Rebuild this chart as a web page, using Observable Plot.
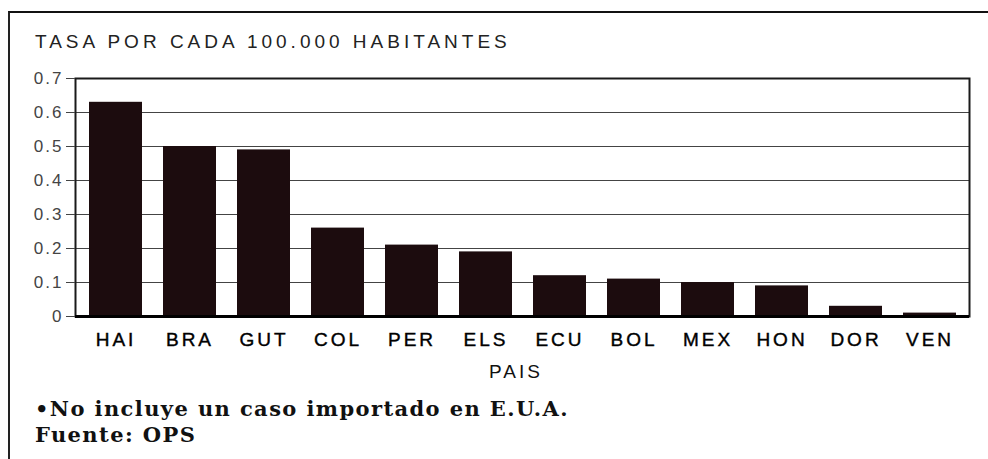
<!DOCTYPE html>
<html><head><meta charset="utf-8">
<script src="https://cdn.jsdelivr.net/npm/d3@7"></script>
<script src="https://cdn.jsdelivr.net/npm/@observablehq/plot@0.6"></script>
<style>
body{margin:0;background:#fff;}
#wrap{position:relative;width:988px;height:459px;overflow:hidden;background:#fff;}
#border{position:absolute;left:8px;top:11px;width:990px;height:470px;border-top:2px solid #111;border-left:2px solid #222;}
.t{position:absolute;white-space:nowrap;line-height:1;margin:0;}
#title{left:35px;top:32px;font-family:"Liberation Sans",Arial,sans-serif;font-size:19px;letter-spacing:4px;color:#222;}
#xlab{left:489px;top:362px;font-family:"Liberation Sans",Arial,sans-serif;font-size:19px;letter-spacing:3px;color:#111;}
.foot{font-family:"DejaVu Serif",serif;font-size:21px;letter-spacing:1.4px;color:#111;font-weight:bold;}
#f1{left:35px;top:398px;}
#f2{left:35px;top:424px;}
#chart{position:absolute;left:0;top:0;}
</style></head>
<body>
<div id="wrap">
  <div id="border"></div>
  <div id="chart"></div>
  <div class="t" id="title">TASA POR CADA 100.000 HABITANTES</div>
  <div class="t" id="xlab">PAIS</div>
  <div class="t foot" id="f1">•No incluye un caso importado en E.U.A.</div>
  <div class="t foot" id="f2">Fuente: OPS</div>
</div>
<script>
const paises = ["HAI","BRA","GUT","COL","PER","ELS","ECU","BOL","MEX","HON","DOR","VEN"];
const tasas  = [0.63,0.50,0.49,0.26,0.21,0.19,0.12,0.11,0.10,0.09,0.03,0.01];
const yTicks = [0,0.1,0.2,0.3,0.4,0.5,0.6,0.7];
const data = paises.map((p,i)=>({pais:p,tasa:tasas[i]}));

const svg = Plot.plot({
  width:988, height:459,
  marginLeft:75, marginRight:19, marginTop:78, marginBottom:143,
  style:{background:"transparent", fontFamily:"'Liberation Sans', Arial, sans-serif", color:"#111"},
  x:{domain:paises, paddingInner:0.285, paddingOuter:0.17, label:null},
  y:{domain:[0,0.7], label:null},
  marks:[
    Plot.ruleY(yTicks, {stroke:"#444", strokeWidth:1.2}),
    Plot.barY(data, {x:"pais", y:"tasa", fill:"#1c0c0e"}),
    Plot.frame({stroke:"#1a1a1a", strokeWidth:2}),
    Plot.ruleY([0], {stroke:"#000", strokeWidth:3}),
    Plot.axisY(yTicks, {tickSize:9, tickPadding:3, fontSize:17, stroke:"#444", color:"#444", tickFormat:d3.format(".1~f"), label:null}),
    Plot.axisX({tickSize:0, tickPadding:16, fontSize:19, color:"#000", label:null})
  ]
});
d3.select(svg).selectAll("g[aria-label='y-axis tick label'] text").attr("letter-spacing","2px");
d3.select(svg).selectAll("g[aria-label='x-axis tick label'] text")
  .attr("letter-spacing","3px").attr("stroke","#000").attr("stroke-width",0.4);
document.getElementById("chart").appendChild(svg);
</script>
</body></html>
